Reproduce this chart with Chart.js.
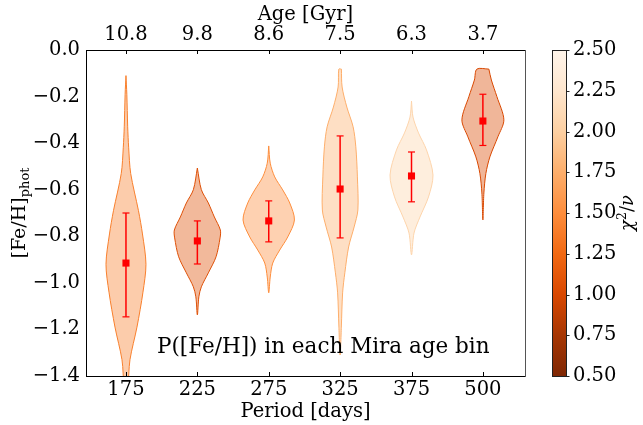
<!DOCTYPE html>
<html>
<head>
<meta charset="utf-8">
<script src="https://cdn.jsdelivr.net/npm/chart.js@4.4.1/dist/chart.umd.min.js"></script>
<style>
  html, body { margin: 0; padding: 0; background: #fff; }
  #wrap { width: 643px; height: 425px; }
</style>
</head>
<body>
<div id="wrap"><canvas id="myChart" width="643" height="425"></canvas></div>
<script>
// period bins and the matching ages
const periods = ["175", "225", "275", "325", "375", "500"];
const ages = ["10.8", "9.8", "8.6", "7.5", "6.3", "3.7"];
const chi2 = [1.4, 1.05, 1.5, 1.75, 2.05, 1.0];

// median [Fe/H] and the error bar ends
const medians = [-0.915, -0.82, -0.734, -0.597, -0.541, -0.305];
const errLow = [-1.146, -0.919, -0.824, -0.807, -0.652, -0.41];
const errHigh = [-0.70, -0.734, -0.648, -0.369, -0.438, -0.19];

// violin outlines: [Fe/H] levels and half widths (in bin units)
const violinY = [
  [-0.11, -0.19, -0.33, -0.42, -0.53, -0.69, -0.79, -0.92, -1.04, -1.19, -1.33, -1.45],
  [-0.507, -0.60, -0.657, -0.717, -0.773, -0.807, -0.888, -0.957, -1.017, -1.06, -1.138],
  [-0.412, -0.486, -0.545, -0.601, -0.657, -0.73, -0.803, -0.859, -0.915, -0.975, -1.043],
  [-0.082, -0.159, -0.245, -0.33, -0.416, -0.545, -0.687, -0.76, -0.846, -0.957, -1.043, -1.19, -1.31],
  [-0.219, -0.288, -0.356, -0.429, -0.537, -0.631, -0.717, -0.786, -0.88],
  [-0.082, -0.129, -0.2, -0.3, -0.373, -0.459, -0.53, -0.614, -0.73],
];
const violinW = [
  [0, 0.012, 0.024, 0.038, 0.066, 0.175, 0.231, 0.28, 0.238, 0.154, 0.056, 0.021],
  [0, 0.056, 0.154, 0.238, 0.322, 0.318, 0.262, 0.154, 0.056, 0.021, 0],
  [0, 0.021, 0.084, 0.196, 0.294, 0.36, 0.266, 0.154, 0.056, 0.021, 0],
  [0.018, 0.028, 0.094, 0.182, 0.22, 0.242, 0.249, 0.196, 0.119, 0.066, 0.035, 0.017, 0],
  [0, 0.021, 0.098, 0.21, 0.301, 0.238, 0.119, 0.035, 0],
  [0.084, 0.119, 0.196, 0.294, 0.21, 0.098, 0.042, 0.014, 0],
];

// matplotlib "Oranges" stops, used reversed
const orangesStops = ["#fff5eb", "#fee6ce", "#fdd0a2", "#fdae6b", "#fd8d3c", "#f16913", "#d94801", "#a63603", "#7f2704"];

function hexRgb(h) {
  return [1, 3, 5].map((k) => parseInt(h.slice(k, k + 2), 16));
}
function orangesR(v) {
  let t = Math.min(1, Math.max(0, (2.5 - v) / 2)) * 8;
  const i = Math.min(7, Math.floor(t));
  const u = t - i;
  const a = hexRgb(orangesStops[i]), b = hexRgb(orangesStops[i + 1]);
  return a.map((c, k) => Math.round(c + (b[k] - c) * u));
}
function rgba(c, a) {
  return `rgba(${c[0]}, ${c[1]}, ${c[2]}, ${a})`;
}

const serif = "'DejaVu Serif', serif";
const font = { family: serif, size: 19.5 };
Chart.defaults.font.family = serif;
Chart.defaults.color = "#000";

const violinSets = periods.map((p, i) => {
  const pts = [];
  violinY[i].forEach((y, k) => pts.push({ x: i + violinW[i][k], y: y }));
  for (let k = violinY[i].length - 1; k >= 0; k--) {
    if (violinW[i][k] > 0) pts.push({ x: i - violinW[i][k], y: violinY[i][k] });
  }
  pts.push(pts[0]);
  const c = orangesR(chi2[i]);
  return {
    data: pts,
    showLine: true,
    fill: "shape",
    borderColor: rgba(c, 1),
    backgroundColor: rgba(c, 0.4),
    borderWidth: 1,
    pointRadius: 0,
    tension: 0.3,
    order: 3,
  };
});

const errSets = periods.map((p, i) => ({
  data: [{ x: i, y: errLow[i] }, { x: i, y: errHigh[i] }],
  showLine: true,
  borderColor: "#ff0000",
  borderWidth: 1.5,
  pointStyle: "line",
  pointRadius: 3.5,
  pointBorderColor: "#ff0000",
  pointBorderWidth: 1.2,
  order: 2,
}));

const medianSet = {
  data: medians.map((m, i) => ({ x: i, y: m })),
  pointStyle: "rect",
  pointRadius: 5,
  backgroundColor: "#ff0000",
  borderColor: "#ff0000",
  borderWidth: 0,
  order: 1,
};

const extras = {
  id: "extras",
  afterDraw(chart) {
    const { ctx, scales } = chart;
    const { x, y, cb } = scales;
    ctx.save();

    // inward ticks on bottom and top axes
    ctx.strokeStyle = "#000";
    ctx.lineWidth = 1;
    periods.forEach((p, i) => {
      const px = Math.round(x.getPixelForValue(i)) + 0.5;
      ctx.beginPath();
      ctx.moveTo(px, y.bottom);
      ctx.lineTo(px, y.bottom - 4);
      ctx.moveTo(px, y.top);
      ctx.lineTo(px, y.top + 4);
      ctx.stroke();
    });

    // colorbar
    const top = cb.getPixelForValue(2.5);
    const bot = cb.getPixelForValue(0.5);
    const left = cb.left;
    const w = 14;
    const g = ctx.createLinearGradient(0, bot, 0, top);
    orangesStops.forEach((c, k) => g.addColorStop(1 - k / 8, c));
    ctx.fillStyle = g;
    ctx.fillRect(left, top, w, bot - top);
    ctx.strokeStyle = "#222";
    ctx.strokeRect(left + 0.5, top + 0.5, w, bot - top);
    cb.ticks.forEach((t) => {
      const py = Math.round(cb.getPixelForValue(t.value)) + 0.5;
      ctx.beginPath();
      ctx.moveTo(left + w, py);
      ctx.lineTo(left + w + 3.5, py);
      ctx.stroke();
    });

    ctx.fillStyle = "#000";
    ctx.textBaseline = "alphabetic";

    // y axis label with subscript
    const mid = (y.top + y.bottom) / 2;
    ctx.save();
    ctx.translate(25, mid);
    ctx.rotate(-Math.PI / 2);
    ctx.font = `19px ${serif}`;
    const w1 = ctx.measureText("[Fe/H]").width;
    ctx.font = `13px ${serif}`;
    const w2 = ctx.measureText("phot").width;
    const s = -(w1 + w2) / 2;
    ctx.font = `19px ${serif}`;
    ctx.fillText("[Fe/H]", s, 0);
    ctx.font = `13px ${serif}`;
    ctx.fillText("phot", s + w1, 4);
    ctx.restore();

    // colorbar label chi^2/nu
    ctx.save();
    ctx.translate(633, mid);
    ctx.rotate(-Math.PI / 2);
    ctx.font = `italic 18px ${serif}`;
    const a1 = ctx.measureText("\u03c7").width;
    ctx.font = `12.5px ${serif}`;
    const a2 = ctx.measureText("2").width;
    ctx.font = `18px ${serif}`;
    const a3 = ctx.measureText("/").width;
    ctx.font = `italic 18px ${serif}`;
    const a4 = ctx.measureText("\u03bd").width;
    let cx = -(a1 + a2 + a3 + a4) / 2;
    ctx.fillText("\u03c7", cx, 0);
    cx += a1;
    ctx.font = `12.5px ${serif}`;
    ctx.fillText("2", cx, -7);
    cx += a2;
    ctx.font = `18px ${serif}`;
    ctx.fillText("/", cx, 0);
    cx += a3;
    ctx.font = `italic 18px ${serif}`;
    ctx.fillText("\u03bd", cx, 0);
    ctx.restore();

    // annotation
    ctx.font = `21.5px ${serif}`;
    ctx.fillText("P([Fe/H]) in each Mira age bin", 157, 353);
    ctx.restore();
  },
};

const ctx = document.getElementById("myChart").getContext("2d");

new Chart(ctx, {
  type: "scatter",
  data: {
    datasets: [medianSet, ...errSets, ...violinSets],
  },
  options: {
    responsive: false,
    animation: false,
    events: [],
    layout: { padding: 0 },
    plugins: {
      legend: { display: false },
      tooltip: { enabled: false },
    },
    scales: {
      x: {
        type: "linear",
        position: "bottom",
        min: -0.56,
        max: 5.59,
        afterBuildTicks: (s) => {
          s.ticks = periods.map((p, i) => ({ value: i }));
        },
        ticks: {
          callback: (v, i) => periods[i],
          font: font,
          color: "#000",
          padding: 2,
          maxRotation: 0,
          autoSkip: false,
        },
        grid: { drawOnChartArea: false, drawTicks: false },
        border: { color: "#000", width: 1 },
        title: {
          display: true,
          text: "Period [days]",
          font: font,
          color: "#000",
          padding: { top: 0, bottom: 1 },
        },
        afterFit: (s) => {
          s.height = 49;
        },
      },
      x2: {
        type: "linear",
        axis: "x",
        position: "top",
        min: -0.56,
        max: 5.59,
        afterBuildTicks: (s) => {
          s.ticks = ages.map((a, i) => ({ value: i }));
        },
        ticks: {
          callback: (v, i) => ages[i],
          font: font,
          color: "#000",
          padding: 3,
          maxRotation: 0,
          autoSkip: false,
        },
        grid: { drawOnChartArea: false, drawTicks: false },
        border: { color: "#000", width: 1 },
        title: {
          display: true,
          text: "Age [Gyr]",
          font: font,
          color: "#000",
          padding: { top: 3, bottom: 0 },
        },
        afterFit: (s) => {
          s.height = 50;
        },
      },
      y: {
        type: "linear",
        position: "left",
        min: -1.4,
        max: 0,
        ticks: {
          stepSize: 0.2,
          font: font,
          color: "#000",
          padding: 6,
          callback: (v) => (v < -1e-9 ? "\u2212" : "") + Math.abs(v).toFixed(1),
        },
        grid: { drawOnChartArea: false, drawTicks: false },
        border: { color: "#000", width: 1 },
        afterFit: (s) => {
          s.width = 86;
        },
      },
      yR: {
        type: "linear",
        axis: "y",
        position: "right",
        ticks: { display: false },
        grid: { drawOnChartArea: false, drawTicks: false },
        border: { color: "#555", width: 1 },
        afterFit: (s) => {
          s.width = 27;
        },
      },
      cb: {
        type: "linear",
        axis: "y",
        position: "right",
        min: 0.5,
        max: 2.5,
        ticks: {
          stepSize: 0.25,
          font: font,
          color: "#000",
          padding: 21,
          callback: (v) => v.toFixed(2),
        },
        grid: { drawOnChartArea: false, drawTicks: false },
        border: { display: false },
        afterFit: (s) => {
          s.width = 91;
        },
      },
    },
  },
  plugins: [extras],
});
</script>
</body>
</html>
